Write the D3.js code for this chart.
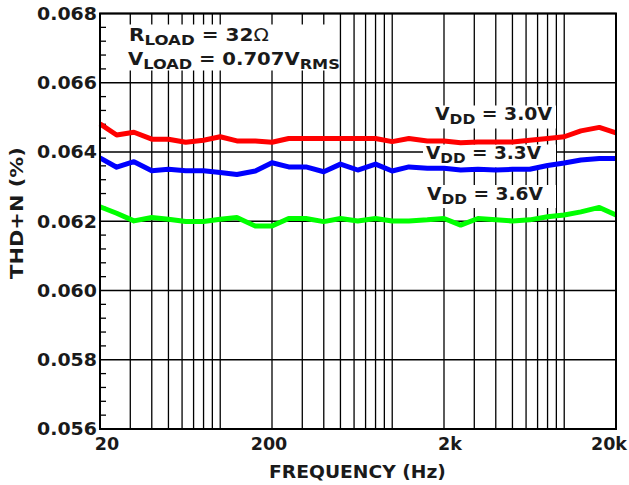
<!DOCTYPE html>
<html><head><meta charset="utf-8">
<script src="https://cdn.jsdelivr.net/npm/d3@7"></script>
<style>
body{margin:0;background:#fff}
text{font-family:"DejaVu Sans",Verdana,sans-serif;font-weight:bold;fill:#1a1a1a}
</style>
</head><body>
<svg id="c" width="629" height="485"></svg>
<script>
// ---- data ----
const freqs = [20,25,31.5,40,50,63,80,100,125,160,200,250,315,400,500,630,800,1000,1250,1600,2000,2500,3150,4000,5000,6300,8000,10000,12500,16000,20000];
const thdVdd30 = [0.06481,0.06449,0.06457,0.06437,0.06437,0.06428,0.06434,0.06444,0.06432,0.06432,0.06428,
  0.06439,0.06439,0.06439,0.06439,0.06439,0.06439,0.06430,0.06439,0.06432,0.06432,
  0.06427,0.06429,0.06429,0.06429,0.06434,0.06439,0.06444,0.06461,0.06471,0.06455];
const thdVdd33 = [0.06383,0.06356,0.06372,0.06346,0.06350,0.06346,0.06346,0.06341,0.06335,0.06345,0.06369,
  0.06357,0.06357,0.06343,0.06365,0.06348,0.06365,0.06345,0.06357,0.06353,0.06353,
  0.06348,0.06350,0.06348,0.06350,0.06350,0.06361,0.06368,0.06377,0.06381,0.06381];
const thdVdd36 = [0.06242,0.06223,0.06201,0.06211,0.06206,0.06199,0.06199,0.06206,0.06211,0.06186,0.06186,
  0.06208,0.06208,0.06199,0.06208,0.06201,0.06208,0.06201,0.06201,0.06204,0.06208,
  0.06189,0.06208,0.06204,0.06201,0.06204,0.06213,0.06218,0.06227,0.06240,0.06218];
const seriesNames = ["3.0V","3.3V","3.6V"];
const seriesColors = ["#ff0000","#0000ff","#00ff00"];
const yTickValues = [0.056,0.058,0.060,0.062,0.064,0.066,0.068];
const yMinorValues = [0.0564,0.0568,0.0572,0.0576,0.0584,0.0588,0.0592,0.0596,0.0604,0.0608,0.0612,0.0616,
  0.0624,0.0628,0.0632,0.0636,0.0644,0.0648,0.0652,0.0656,0.0664,0.0668,0.0672,0.0676];
const xTickValues = [20,200,2000,20000];
const xTickLabels = ["20","200","2k","20k"];
const xGridValues = [30,40,50,60,70,80,90,100,200,300,400,500,600,700,800,900,1000,
  2000,3000,4000,5000,6000,7000,8000,9000,10000];

// ---- layout ----
const svg = d3.select("#c");
const L = 100, R = 616, T = 13.5, B = 429;
const x = d3.scaleLog().domain([20,20000]).range([L,R]);
const y = d3.scaleLinear().domain([0.056,0.068]).range([B,T]);

// horizontally stretch a text element (reference font is wider)
function stretch(t, w, ax){
  const b = t.node().getBBox();
  const k = w / b.width;
  if (ax === undefined) ax = b.x;
  t.attr("transform",`translate(${ax},0) scale(${k},1) translate(${-ax},0)`);
  return {x: ax + (b.x-ax)*k, y: b.y, width: b.width*k, height: b.height};
}

const grid = svg.append("g");
grid.selectAll("line.v").data(xGridValues).join("line")
  .attr("x1",d=>x(d)).attr("x2",d=>x(d)).attr("y1",T).attr("y2",B)
  .attr("stroke","#000").attr("stroke-width",1.3);
grid.selectAll("line.h").data(yTickValues).join("line")
  .attr("x1",L).attr("x2",R).attr("y1",d=>y(d)).attr("y2",d=>y(d))
  .attr("stroke","#000").attr("stroke-width",1.3);
grid.selectAll("line.m").data(yMinorValues).join("line")
  .attr("x1",L).attr("x2",L+6).attr("y1",d=>y(d)).attr("y2",d=>y(d))
  .attr("stroke","#000").attr("stroke-width",1.3);

const boxLayer = svg.append("g");
const curveLayer = svg.append("g");
const textLayer = svg.append("g");

function subText(g, xp, yp, parts, size, subSize){
  const t = g.append("text").attr("x",xp).attr("y",yp).attr("font-size",size);
  parts.forEach(p=>{
    let s;
    if(p.sub){ s = t.append("tspan").attr("font-size",subSize).attr("dy",4).text(p.t); }
    else { s = t.append("tspan").attr("dy", p.after ? -4 : 0).text(p.t); }
    if(p.normal) s.attr("font-weight","normal");
  });
  return t;
}

// annotation
const a1 = subText(textLayer, 129, 41.5, [{t:"R"},{t:"LOAD",sub:true},{t:" = 32",after:true},{t:"Ω",normal:true}], 17, 14);
const a2 = subText(textLayer, 128, 65.5, [{t:"V"},{t:"LOAD",sub:true},{t:" = 0.707V",after:true},{t:"RMS",sub:true}], 17, 14);
{
  const b1 = stretch(a1, 140), b2 = stretch(a2, 212);
  const x0 = 108, x1 = Math.max(b1.x+b1.width,b2.x+b2.width)-3;
  boxLayer.append("rect").attr("x",x0).attr("y",b1.y-1).attr("width",x1-x0)
    .attr("height",b2.y+b2.height-b1.y-1).attr("fill","#fff");
}

// series labels
const labelPos = [[435,120.5],[426,159.5],[427,200]];
const labelW = [118,116,117];
seriesNames.forEach((n,i)=>{
  const t = subText(textLayer, labelPos[i][0], labelPos[i][1], [{t:"V"},{t:"DD",sub:true},{t:" = "+n,after:true}], 17, 14);
  const b = stretch(t, labelW[i]);
  boxLayer.append("rect").attr("x",b.x-3).attr("y",b.y+1)
    .attr("width",556-(b.x-3)).attr("height",b.height).attr("fill","#fff");
});

// curves
const line = d3.line().x((d,i)=>x(freqs[i])).y(d=>y(d));
[thdVdd30,thdVdd33,thdVdd36].forEach((s,i)=>{
  curveLayer.append("path").attr("d",line(s)).attr("fill","none")
    .attr("stroke",seriesColors[i]).attr("stroke-width",5).attr("stroke-linejoin","round");
});

// frame
svg.append("rect").attr("x",L).attr("y",T).attr("width",R-L).attr("height",B-T)
  .attr("fill","none").attr("stroke","#000").attr("stroke-width",2);

// y tick labels
svg.append("g").selectAll("text").data(yTickValues).join("text")
  .attr("x",L-3).attr("y",d=>y(d)).attr("dy","0.36em").attr("text-anchor","end")
  .attr("font-size",17.5).text(d=>d3.format(".3f")(d))
  .each(function(){ stretch(d3.select(this), 60, L-3); });

// x tick labels
const xLabelShift = [7,-3,6,-7];
svg.append("g").selectAll("text").data(xTickValues).join("text")
  .attr("x",(d,i)=>x(d)+xLabelShift[i])
  .attr("y",450).attr("text-anchor","middle").attr("font-size",17.5)
  .text((d,i)=>xTickLabels[i]);

// axis titles
const xt = svg.append("text").attr("x",357.5).attr("y",478).attr("text-anchor","middle")
  .attr("font-size",17).text("FREQUENCY (Hz)");
stretch(xt, 177, 357.5);
const yt = svg.append("text").attr("text-anchor","middle").attr("font-size",17).text("THD+N (%)");
{
  const b = yt.node().getBBox();
  const k = 132 / b.width;
  yt.attr("transform",`translate(23,213) rotate(-90) scale(${k},1)`);
}
</script>
</body></html>
